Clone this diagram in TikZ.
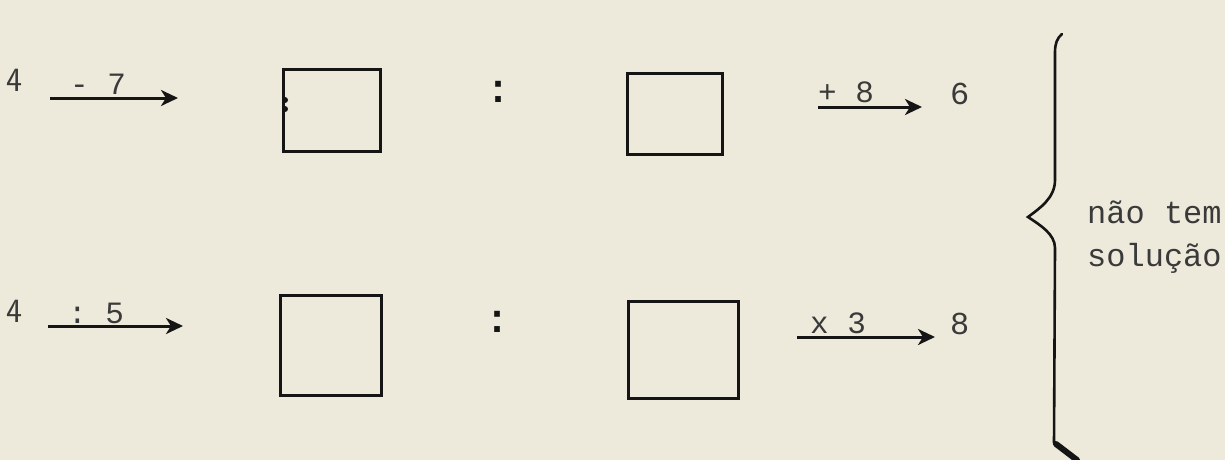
\documentclass[tikz,border=0pt]{standalone}
\usepackage{fontspec}
\setmonofont{Liberation Mono}
\usetikzlibrary{arrows.meta}
\definecolor{paper}{HTML}{EDEADB}
\definecolor{ink}{HTML}{151515}
\definecolor{typed}{HTML}{3A3A3A}
\begin{document}
\begin{tikzpicture}[x=1pt,y=-1pt,
  txt/.style={font=\ttfamily\fontsize{32}{36}\selectfont, text=typed, inner sep=0pt, anchor=base west},
  lbl/.style={font=\ttfamily\fontsize{31}{34}\selectfont, text=typed, inner sep=0pt, anchor=base west},
  colon/.style={font=\ttfamily\bfseries\fontsize{40}{44}\selectfont, text=ink, inner sep=0pt, anchor=base west},
  hand/.style={font=\sffamily\fontsize{34}{38}\selectfont, text=typed, inner sep=0pt, anchor=base west},
  opbox/.style={draw=ink, line width=3pt, inner sep=0pt},
  oparrow/.style={draw=ink, line width=3pt, -{Stealth[length=17pt,width=16pt,inset=5pt]}},
  brace/.style={draw=ink, line width=2.6pt, line cap=round}
]
\fill[paper] (0,0) rectangle (1225,460);
\useasboundingbox (0,0) rectangle (1225,460);

% ---------- row 1 ----------
\node[hand] (s1) at (6,92) {4};
\coordinate (a1s) at (50,98);
\coordinate (a1e) at (178,98);
\draw[oparrow] (a1s) -- (a1e);
\node[lbl] (l1) at (70,94) {- 7};
\node[opbox, minimum width=97pt, minimum height=82pt] (b1) at (331.5,110) {};
\fill[ink] (285,100) circle (3pt) (285,109) circle (3pt);
\node[colon] (c1) at (486,102) {:};
\node[opbox, minimum width=95pt, minimum height=81pt] (b2) at (674.5,113.5) {};
\coordinate (a2s) at (818,107);
\coordinate (a2e) at (922,107);
\draw[oparrow] (a2s) -- (a2e);
\node[lbl] (l2) at (818,102) {+ 8};
\node[txt] (r1) at (950,104) {6};

% ---------- row 2 ----------
\node[hand] (s2) at (6,322) {4};
\coordinate (a3s) at (48,326);
\coordinate (a3e) at (183,326);
\draw[oparrow] (a3s) -- (a3e);
\node[lbl] (l3) at (68,323) {: 5};
\node[opbox, minimum width=101pt, minimum height=100pt] (b3) at (330.5,345) {};
\node[colon] (c2) at (485,332) {:};
\node[opbox, minimum width=110pt, minimum height=97pt] (b4) at (683,349.5) {};
\coordinate (a4s) at (797,337);
\coordinate (a4e) at (935,337);
\draw[oparrow] (a4s) -- (a4e);
\node[lbl] (l4) at (810,333) {x 3};
\node[txt] (r2) at (950,334) {8};

% ---------- brace ----------
\draw[brace] (1062,34) .. controls (1057,38) and (1055,44) .. (1055,52)
  -- (1055,180) .. controls (1055,198) and (1040,208) .. (1028,217)
  .. controls (1040,225) and (1055,234) .. (1055,248)
  -- (1054,443);
\draw[ink, line width=6pt, line cap=round] (1056,444) -- (1077,460);

\node[txt] (t1) at (1087,223) {não tem};
\node[txt] (t2) at (1087,266) {solução};
\end{tikzpicture}
\end{document}
